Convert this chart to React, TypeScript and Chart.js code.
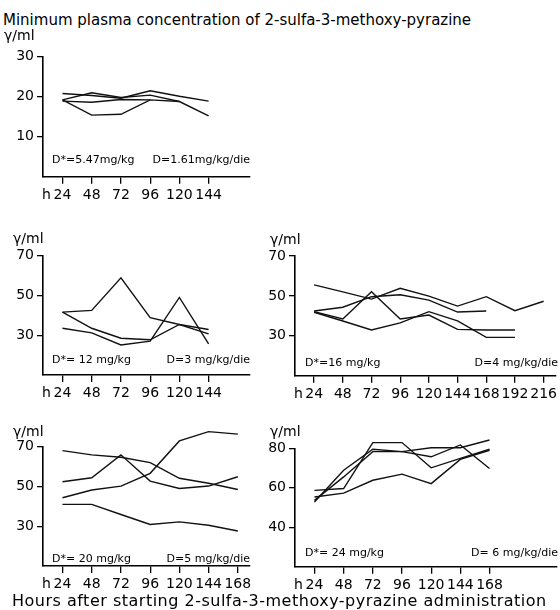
import React, { useEffect, useRef } from "react";
import { Chart, registerables } from "chart.js";
Chart.register(...registerables);

const FONT = "'DejaVu Sans', sans-serif";

// Title / axis texts
const TITLE = "Minimum plasma concentration of 2-sulfa-3-methoxy-pyrazine";
const FOOTER = "Hours after starting 2-sulfa-3-methoxy-pyrazine administration";
const UNIT = "γ/ml";

// x tick labels (hours)
const HOURS_6 = [24, 48, 72, 96, 120, 144];
const HOURS_7 = [24, 48, 72, 96, 120, 144, 168];
const HOURS_9 = [24, 48, 72, 96, 120, 144, 168, 192, 216];

// y tick labels
const Y_TICKS_1 = [10, 20, 30];
const Y_TICKS_2 = [30, 50, 70];
const Y_TICKS_5 = [40, 60, 80];

// Panel 1: D*=5.47 mg/kg, D=1.61 mg/kg/die
const p1a = [20.8, 20.3, 19.6, 21.5, 20.1, 18.9];
const p1b = [19.2, 21.0, 19.8, 20.4, 18.8, 15.2];
const p1c = [19.2, 15.4, 15.6, 19.2, 18.8, null];
const p1d = [18.9, 18.6, 19.3, 19.2, null, null];

// Panel 2: D*=12 mg/kg, D=3 mg/kg/die
const p2a = [41.6, 42.5, 58.9, 38.8, 35.4, 32.9];
const p2b = [41.6, 33.5, 28.5, 27.7, 35.4, 30.7];
const p2c = [33.5, 31.2, 25.1, 27.0, 49.0, 25.6];

// Panel 3: D*=16 mg/kg, D=4 mg/kg/die
const p3a = [55.5, 52.0, 48.4, 53.8, 49.9, 44.9, 49.6, 42.6, 47.3];
const p3b = [42.4, 44.3, 49.6, 50.6, 47.9, 41.9, 42.4];
const p3c = [42.1, 38.4, 52.1, 38.4, 40.4, 33.2, 32.9, 32.9];
const p3d = [41.8, 37.4, 32.9, 36.5, 42.1, 37.5, 29.2, 29.2];

// Panel 4: D*=20 mg/kg, D=5 mg/kg/die
const p4a = [68.0, 65.9, 64.7, 62.0, 54.1, 51.6, 48.5];
const p4b = [52.4, 54.4, 65.9, 52.7, 49.0, 50.2, 54.9];
const p4c = [44.3, 48.2, 50.2, 56.6, 72.9, 77.6, 76.3];
const p4d = [41.0, 41.0, 35.9, 30.9, 32.2, 30.5, 27.6];

// Panel 5: D*=24 mg/kg, D=6 mg/kg/die
const p5a = [58.7, 59.6, 82.9, 82.9, 70.1, 74.9, 79.5];
const p5b = [55.3, 57.3, 63.8, 66.9, 62.1, 74.4, 79.0];
const p5c = [52.8, 68.9, 79.5, 78.3, 80.3, 80.3, 84.2];
const p5d = [53.6, 65.5, 78.3, 78.3, 75.7, 81.7, 69.8];

type PanelCfg = {
  box: [number, number, number, number]; // canvas left, top, width, height (page px)
  yWidth: number;
  padTop: number;
  padRight: number;
  xHeight: number;
  xMin: number;
  xMax: number;
  yMin: number;
  yMax: number;
  xTicks: number[];
  yTicks: number[];
  hours: number[];
  series: (number | null)[][];
  dose1: string;
  dose2: string;
  unitPos: [number, number];
  dose1Pos: [number, number];
  dose2Pos: [number, number];
};

const PANELS: PanelCfg[] = [
  {
    box: [0, 26, 262, 184], yWidth: 43, padTop: 30.7, padRight: 12, xHeight: 33.3,
    xMin: 8, xMax: 178, yMin: 0, yMax: 30, xTicks: HOURS_6, yTicks: Y_TICKS_1,
    hours: HOURS_6, series: [p1a, p1b, p1c, p1d],
    dose1: "D*=5.47mg/kg", dose2: "D=1.61mg/kg/die",
    unitPos: [4, 40], dose1Pos: [52, 163], dose2Pos: [250, 163],
  },
  {
    box: [0, 222, 262, 188], yWidth: 43, padTop: 33.7, padRight: 12, xHeight: 35,
    xMin: 8, xMax: 178, yMin: 10, yMax: 70, xTicks: HOURS_6, yTicks: Y_TICKS_2,
    hours: HOURS_6, series: [p2a, p2b, p2c],
    dose1: "D*= 12 mg/kg", dose2: "D=3 mg/kg/die",
    unitPos: [13, 243], dose1Pos: [52, 363], dose2Pos: [250, 363],
  },
  {
    box: [262, 222, 298, 188], yWidth: 33, padTop: 34, padRight: 0, xHeight: 34.3,
    xMin: 8, xMax: 226, yMin: 10, yMax: 70, xTicks: HOURS_9, yTicks: Y_TICKS_2,
    hours: HOURS_9, series: [p3a, p3b, p3c, p3d],
    dose1: "D*=16 mg/kg", dose2: "D=4 mg/kg/die",
    unitPos: [270, 244], dose1Pos: [305, 366], dose2Pos: [558, 366],
  },
  {
    box: [0, 412, 262, 198], yWidth: 43, padTop: 34.7, padRight: 12, xHeight: 44,
    xMin: 8, xMax: 178, yMin: 10, yMax: 70, xTicks: HOURS_7, yTicks: Y_TICKS_2,
    hours: HOURS_7, series: [p4a, p4b, p4c, p4d],
    dose1: "D*= 20 mg/kg", dose2: "D=5 mg/kg/die",
    unitPos: [13, 436], dose1Pos: [52, 562], dose2Pos: [250, 562],
  },
  {
    box: [262, 412, 298, 198], yWidth: 33, padTop: 36.3, padRight: 3, xHeight: 43.3,
    xMin: 8, xMax: 223.5, yMin: 20, yMax: 80, xTicks: HOURS_7, yTicks: Y_TICKS_5,
    hours: HOURS_7, series: [p5a, p5b, p5c, p5d],
    dose1: "D*= 24 mg/kg", dose2: "D= 6 mg/kg/die",
    unitPos: [270, 436], dose1Pos: [305, 556], dose2Pos: [558, 556],
  },
];

const TICK_LEN = 7;
const TICK_PAD = 3;
const TICK_FONT = 14;

const textPlugin = {
  id: "panelText",
  afterDraw(chart: any, _args: any, opts: any) {
    const { ctx, chartArea } = chart;
    const [bx, by] = opts.box;
    ctx.save();
    ctx.fillStyle = "#000";
    ctx.font = `14px ${FONT}`;
    ctx.textAlign = "left";
    ctx.textBaseline = "alphabetic";
    ctx.fillText(UNIT, opts.unitPos[0] - bx, opts.unitPos[1] - by);
    // "h" before the first hour label
    ctx.textBaseline = "middle";
    ctx.font = `${TICK_FONT}px ${FONT}`;
    ctx.fillText("h", chartArea.left - 1, chartArea.bottom + TICK_LEN + TICK_PAD + (TICK_FONT * 1.2) / 2);
    // dose annotations
    ctx.textBaseline = "alphabetic";
    ctx.font = `11px ${FONT}`;
    ctx.fillText(opts.dose1, opts.dose1Pos[0] - bx, opts.dose1Pos[1] - by);
    ctx.textAlign = "right";
    ctx.fillText(opts.dose2, opts.dose2Pos[0] - bx, opts.dose2Pos[1] - by);
    ctx.restore();
  },
};

function Panel({ cfg }: { cfg: PanelCfg }) {
  const ref = useRef<HTMLCanvasElement>(null);
  useEffect(() => {
    const canvas = ref.current!;
    const datasets = cfg.series.map((s) => ({
      data: s
        .map((v, i) => ({ x: cfg.hours[i], y: v }))
        .filter((p) => p.y !== null),
      borderColor: "#111",
      borderWidth: 1.4,
      pointRadius: 0,
      fill: false,
      tension: 0,
      clip: false as any,
    }));
    const chart = new Chart(canvas, {
      type: "line",
      data: { datasets: datasets as any },
      plugins: [textPlugin as any],
      options: {
        animation: false,
        responsive: false,
        maintainAspectRatio: false,
        layout: {
          padding: { left: 0, top: cfg.padTop, right: cfg.padRight, bottom: 0 },
          autoPadding: false,
        } as any,
        plugins: {
          legend: { display: false },
          tooltip: { enabled: false },
          title: { display: false },
          panelText: {
            box: cfg.box,
            unitPos: cfg.unitPos,
            dose1: cfg.dose1,
            dose2: cfg.dose2,
            dose1Pos: cfg.dose1Pos,
            dose2Pos: cfg.dose2Pos,
          },
        } as any,
        scales: {
          x: {
            type: "linear",
            min: cfg.xMin,
            max: cfg.xMax,
            afterBuildTicks: (s: any) => {
              s.ticks = cfg.xTicks.map((v) => ({ value: v }));
            },
            afterFit: (s: any) => {
              s.height = cfg.xHeight;
            },
            grid: {
              display: true,
              drawOnChartArea: false,
              drawTicks: true,
              tickLength: TICK_LEN,
              color: "#000",
              lineWidth: 1.3,
            },
            border: { display: true, color: "#000", width: 1.6 },
            ticks: {
              color: "#000",
              font: { family: FONT, size: TICK_FONT },
              padding: TICK_PAD,
              maxRotation: 0,
              autoSkip: false,
              callback: (v: any) => String(v),
            },
          },
          y: {
            type: "linear",
            min: cfg.yMin,
            max: cfg.yMax,
            afterBuildTicks: (s: any) => {
              s.ticks = cfg.yTicks.map((v) => ({ value: v }));
            },
            afterFit: (s: any) => {
              s.width = cfg.yWidth;
            },
            grid: {
              display: true,
              drawOnChartArea: false,
              drawTicks: true,
              tickLength: 6,
              color: "#000",
              lineWidth: 1.3,
            },
            border: { display: true, color: "#000", width: 1.6 },
            ticks: {
              color: "#000",
              font: { family: FONT, size: TICK_FONT },
              padding: 3,
              autoSkip: false,
              callback: (v: any) => String(v),
            },
          },
        },
      } as any,
    });
    return () => chart.destroy();
  }, [cfg]);
  const [l, t, w, h] = cfg.box;
  return (
    <canvas
      ref={ref}
      width={w}
      height={h}
      style={{ position: "absolute", left: l, top: t, width: w, height: h }}
    />
  );
}

export default function App() {
  return (
    <div
      style={{
        position: "absolute",
        left: 0,
        top: 0,
        width: 560,
        height: 610,
        overflow: "hidden",
        background: "#fff",
        fontFamily: FONT,
        color: "#000",
      }}
    >
      <div
        style={{
          position: "absolute",
          left: 3,
          top: 13,
          fontSize: 15,
          lineHeight: "15px",
          whiteSpace: "nowrap",
        }}
      >
        {TITLE}
      </div>
      {PANELS.map((p, i) => (
        <Panel key={i} cfg={p} />
      ))}
      <div
        style={{
          position: "absolute",
          left: 12,
          top: 593,
          fontSize: 16,
          lineHeight: "16px",
          letterSpacing: "0.5px",
          whiteSpace: "nowrap",
        }}
      >
        {FOOTER}
      </div>
    </div>
  );
}
